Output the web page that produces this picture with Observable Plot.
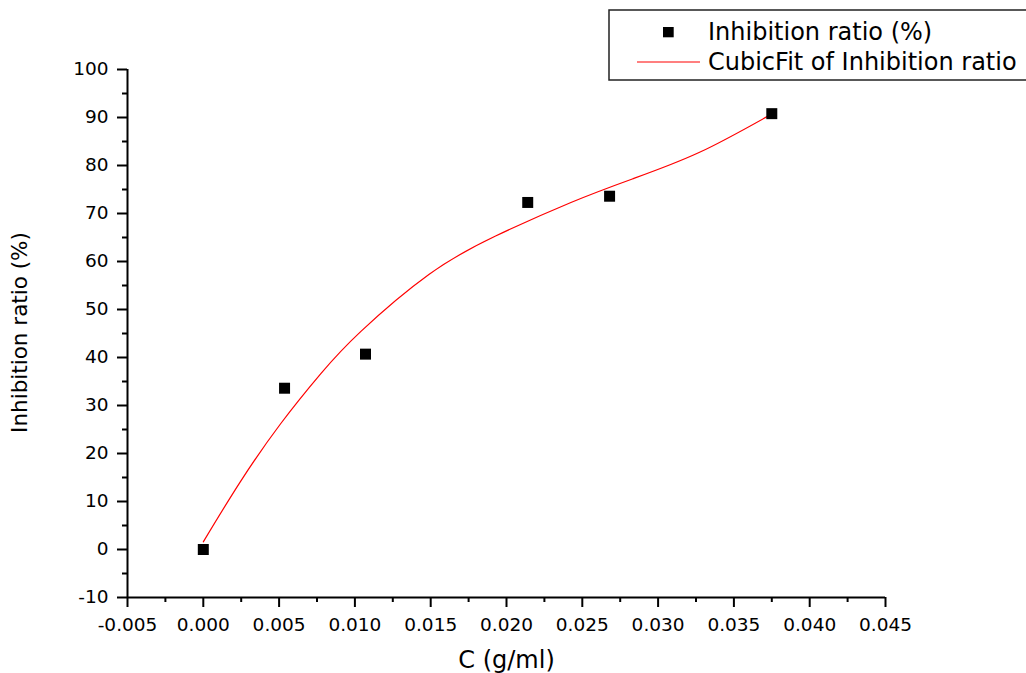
<!DOCTYPE html>
<html>
<head>
<meta charset="utf-8">
<script src="https://cdn.jsdelivr.net/npm/d3@7"></script>
<script src="https://cdn.jsdelivr.net/npm/@observablehq/plot@0.6"></script>
<style>
  html, body { margin: 0; padding: 0; background: #fff; }
  #wrap { position: relative; width: 1026px; height: 673px; overflow: hidden; background: #fff; }
  #legend { position: absolute; left: 0; top: 0; pointer-events: none; }
</style>
</head>
<body>
<div id="wrap"></div>
<script>
// ---- data ----
const concentration = [0, 0.00536, 0.0107, 0.0214, 0.0268, 0.0375];   // C (g/ml)
const inhibition    = [0, 33.6, 40.7, 72.3, 73.6, 90.8];             // Inhibition ratio (%)

// cubic fit curve
const fitX = [0, 0.00246, 0.0051, 0.00774, 0.01038, 0.01488, 0.01928, 0.02425, 0.0283, 0.0327, 0.03742];
const fitY = [1.6, 14.2, 26.2, 36.6, 45.4, 57.3, 65.3, 72.3, 77.2, 82.7, 90.6];

const xTicks = [-0.005, 0, 0.005, 0.01, 0.015, 0.02, 0.025, 0.03, 0.035, 0.04, 0.045];
const xTickLabels = ["-0.005", "0.000", "0.005", "0.010", "0.015", "0.020", "0.025", "0.030", "0.035", "0.040", "0.045"];
const xMinor = [-0.0025, 0.0025, 0.0075, 0.0125, 0.0175, 0.0225, 0.0275, 0.0325, 0.0375, 0.0425];
const yTicks = [-10, 0, 10, 20, 30, 40, 50, 60, 70, 80, 90, 100];
const yTickLabels = ["-10", "0", "10", "20", "30", "40", "50", "60", "70", "80", "90", "100"];
const yMinor = [-5, 5, 15, 25, 35, 45, 55, 65, 75, 85, 95];

const xTitle = "C (g/ml)";
const yTitle = "Inhibition ratio (%)";
const seriesNames = ["Inhibition ratio (%)", "CubicFit of Inhibition ratio"];

// ---- tables built from the arrays ----
const points = concentration.map((c, i) => ({c, v: inhibition[i]}));
const fit = fitX.map((c, i) => ({c, v: fitY[i]}));

const font = "'DejaVu Sans', 'Liberation Sans', sans-serif";

const chart = Plot.plot({
  width: 1026,
  height: 673,
  marginLeft: 127,
  marginRight: 141,
  marginTop: 69,
  marginBottom: 76,
  style: {fontFamily: font, background: "#fff", color: "#000", overflow: "visible"},
  x: {domain: [-0.005, 0.045]},
  y: {domain: [-10, 100]},
  marks: [
    // minor ticks
    Plot.axisX({ticks: xMinor, tickSize: 5, tickFormat: () => "", label: null, strokeWidth: 2, stroke: "#000"}),
    Plot.axisY({ticks: yMinor, tickSize: 5, tickFormat: () => "", label: null, strokeWidth: 2, stroke: "#000"}),
    // major ticks
    Plot.axisX({ticks: xTicks, tickSize: 10, tickPadding: 10, fontSize: 18.5, fill: "#000",
      tickFormat: d => xTickLabels[xTicks.indexOf(d)], label: null, strokeWidth: 2, stroke: "#000"}),
    Plot.axisY({ticks: yTicks, tickSize: 10, tickPadding: 9, fontSize: 18.5, fill: "#000",
      tickFormat: d => yTickLabels[yTicks.indexOf(d)], label: null, strokeWidth: 2, stroke: "#000"}),
    // axis lines
    Plot.ruleX([-0.005], {stroke: "#000", strokeWidth: 2}),
    Plot.ruleY([-10], {stroke: "#000", strokeWidth: 2}),
    // fit curve
    Plot.line(fit, {x: "c", y: "v", stroke: "#ff0000", strokeWidth: 1.2, curve: "natural"}),
    // data points
    Plot.dot(points, {x: "c", y: "v", symbol: "square", r: 6.2, fill: "#000", stroke: "none"}),
    // axis titles
    Plot.text([yTitle], {text: d => d, frameAnchor: "left", textAnchor: "middle", lineAnchor: "middle",
      dx: -107, dy: -1, rotate: -90, fontSize: 21.5, fill: "#000"}),
    Plot.text([xTitle], {text: d => d, frameAnchor: "bottom", textAnchor: "middle", lineAnchor: "middle",
      dy: 62.5, fontSize: 24, fill: "#000"})
  ]
});

const wrap = document.getElementById("wrap");
wrap.appendChild(chart);

// ---- legend overlay (top right, partly cut off like the reference) ----
const ns = "http://www.w3.org/2000/svg";
const leg = document.createElementNS(ns, "svg");
leg.setAttribute("id", "legend");
leg.setAttribute("width", 1026);
leg.setAttribute("height", 673);
function el(tag, attrs, txt) {
  const e = document.createElementNS(ns, tag);
  for (const k in attrs) e.setAttribute(k, attrs[k]);
  if (txt) e.textContent = txt;
  leg.appendChild(e);
  return e;
}
el("rect", {x: 609, y: 10, width: 440, height: 70, fill: "#fff", stroke: "#222", "stroke-width": 1.5});
el("rect", {x: 663, y: 27, width: 10.7, height: 10.3, fill: "#000"});
el("line", {x1: 637, x2: 700, y1: 62, y2: 62, stroke: "#ff0000", "stroke-width": 1.2});
el("text", {x: 708, y: 40, "font-family": font, "font-size": 24, fill: "#000"}, seriesNames[0]);
el("text", {x: 708, y: 70, "font-family": font, "font-size": 24, fill: "#000"}, seriesNames[1]);
wrap.appendChild(leg);
</script>
</body>
</html>
